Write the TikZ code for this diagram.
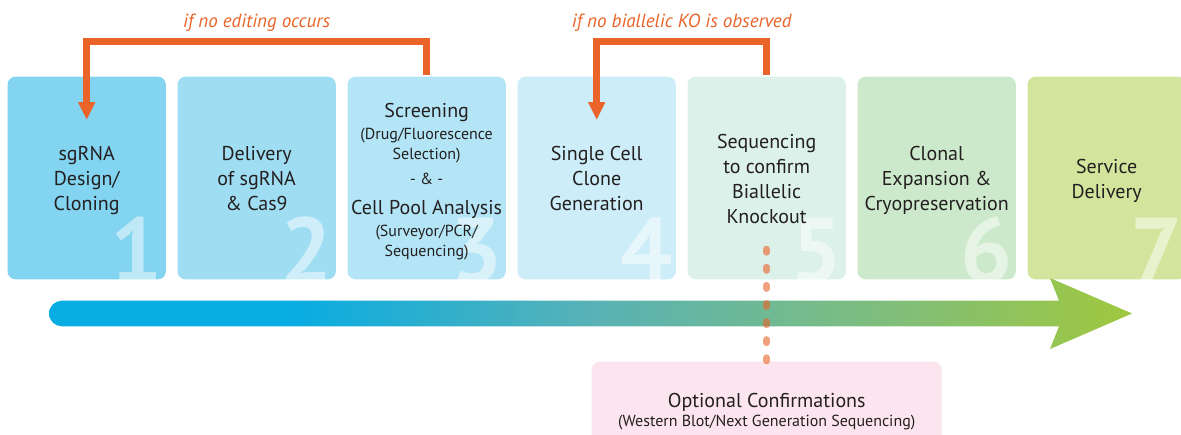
\documentclass[tikz,border=0pt]{standalone}
\usepackage{fontspec}
\setmainfont{PT Sans}
\usetikzlibrary{arrows.meta}
\definecolor{cA}{RGB}{130,212,240}
\definecolor{cB}{RGB}{159,221,243}
\definecolor{cC}{RGB}{180,229,246}
\definecolor{cD}{RGB}{205,237,248}
\definecolor{cE}{RGB}{220,241,234}
\definecolor{cF}{RGB}{205,233,203}
\definecolor{cG}{RGB}{211,229,156}
\definecolor{pinkbox}{RGB}{252,229,239}
\definecolor{orng}{RGB}{234,99,40}
\definecolor{txt}{RGB}{35,31,32}
\definecolor{gblue}{RGB}{7,172,227}
\definecolor{gteal}{RGB}{88,178,182}
\definecolor{gmid}{RGB}{128,190,122}
\definecolor{ggreen}{RGB}{160,200,62}
\pgfdeclarehorizontalshading{barshade}{100bp}{color(0bp)=(gblue); color(25bp)=(gblue); color(36bp)=(gblue); color(50bp)=(gteal); color(64bp)=(gmid); color(75bp)=(ggreen); color(100bp)=(ggreen)}
\begin{document}
\begin{tikzpicture}[x=1pt,y=-1pt,
  stepbox/.style={rounded corners=8pt, inner sep=0pt, draw=none, minimum width=158.3pt, minimum height=202.6pt},
  maintxt/.style={font=\fontsize{20}{25}\selectfont, text=txt, inner sep=0pt, anchor=base},
  smalltxt/.style={font=\fontsize{16}{20}\selectfont, text=txt, inner sep=0pt, anchor=base},
  numtxt/.style={font=\fontsize{92}{92}\selectfont\bfseries, text=white, text opacity=0.5, inner sep=0pt, anchor=base east},
  looplbl/.style={font=\fontsize{19}{22}\selectfont\itshape, text=orng, inner sep=0pt, anchor=base},
  loopline/.style={draw=orng, line width=7pt, -{Triangle[width=16pt,length=18pt]}},
  dotline/.style={draw=orng, draw opacity=0.6, line width=7pt, line cap=round, dash pattern=on 3pt off 15.1pt}
]
\useasboundingbox (0,0) rectangle (1181,434);
\fill[white] (0,0) rectangle (1181,434);

% step boxes
\foreach \i/\col in {1/cA,2/cB,3/cC,4/cD,5/cE,6/cF,7/cG}{
  \node[stepbox, fill=\col] (b\i) at ({86.65+170*(\i-1)},178) {};
}
% big numbers
\foreach \i in {1,...,7}{
  \begin{scope}
    \clip[rounded corners=8pt] (b\i.south west) rectangle (b\i.north east);
    \node[numtxt] (n\i) at ([xshift=-3pt,yshift=-3pt]b\i.south east) {\i};
  \end{scope}
}

% box texts
\node[maintxt] (t1) at (86.65,160.7) {\begin{tabular}[t]{@{}c@{}}sgRNA\\Design/\\Cloning\end{tabular}};
\node[maintxt] (t2) at (256.65,160.7) {\begin{tabular}[t]{@{}c@{}}Delivery\\of sgRNA\\\& Cas9\end{tabular}};
\node[maintxt] (t3a) at (426.65,117.3) {Screening};
\node[smalltxt] (t3b) at (426.65,139.3) {(Drug/Fluorescence};
\node[smalltxt] (t3c) at (426.65,159.3) {Selection)};
\node[smalltxt] (t3d) at (426.65,184) {- \& -};
\node[maintxt] (t3e) at (426.65,214) {Cell Pool Analysis};
\node[smalltxt] (t3f) at (426.65,236) {(Surveyor/PCR/};
\node[smalltxt] (t3g) at (426.65,256) {Sequencing)};
\node[maintxt] (t4) at (596.65,160.7) {\begin{tabular}[t]{@{}c@{}}Single Cell\\Clone\\Generation\end{tabular}};
\node[maintxt] (t5) at (766.65,148.3) {\begin{tabular}[t]{@{}c@{}}Sequencing\\to confirm\\Biallelic\\Knockout\end{tabular}};
\node[maintxt] (t6) at (936.65,160) {\begin{tabular}[t]{@{}c@{}}Clonal\\Expansion \&\\Cryopreservation\end{tabular}};
\node[maintxt] (t7) at (1106.65,173.3) {\begin{tabular}[t]{@{}c@{}}Service\\Delivery\end{tabular}};

% gradient process arrow
\shade[shading=barshade]
  (61.8,300.7) -- (1059,300.7) -- (1050,278) -- (1132,313.5) -- (1050,349) -- (1059,326.3) -- (61.8,326.3)
  arc[start angle=90, end angle=270, radius=12.8] -- cycle;

% optional confirmations box
\node[rounded corners=8pt, fill=pinkbox, inner sep=0pt, minimum width=350pt, minimum height=90pt] (opt) at (766.7,406.7) {};
\node[maintxt] (o1) at (766.7,407) {Optional Confirmations};
\node[smalltxt] (o2) at (766.7,426) {(Western Blot/Next Generation Sequencing)};

% dotted connector
\coordinate (dstart) at (766.7,249.2);
\draw[dotline] (dstart) -- (opt.north);

% loop-back connectors
\coordinate (top1) at (0,41.7);
\coordinate (tip1) at (86.65,120);
\coordinate (tip4) at (596.65,120);
\draw[loopline, shorten <=1.5pt] (b3.north) -- (b3.north |- top1) -| (tip1);
\draw[loopline, shorten <=1.5pt] (b5.north) -- (b5.north |- top1) -| (tip4);
\node[looplbl] (l1) at (256.65,27.3) {if no editing occurs};
\node[looplbl] (l2) at (681.65,27.3) {if no biallelic KO is observed};
\end{tikzpicture}
\end{document}
